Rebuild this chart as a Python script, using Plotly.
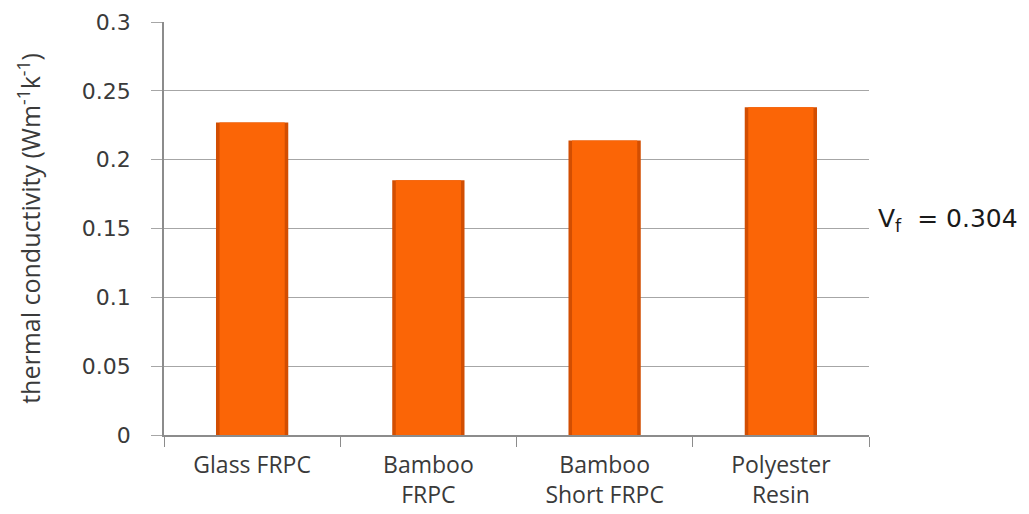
import plotly.graph_objects as go

# Thermal conductivity of each material
materials = ["Glass FRPC", "Bamboo<br>FRPC", "Bamboo<br>Short FRPC", "Polyester<br>Resin"]
conductivity = [0.227, 0.185, 0.214, 0.238]

y_ticks = [0, 0.05, 0.1, 0.15, 0.2, 0.25, 0.3]
y_tick_text = ["0", "0.05", "0.1", "0.15", "0.2", "0.25", "0.3"]

text_color = "#3a3a3a"
grid_color = "#a6a6a6"

fig = go.Figure()

# dark rim of each bar
fig.add_trace(go.Bar(
    x=materials, y=conductivity, width=0.41,
    marker=dict(color="#d24e02", line=dict(width=0)),
    hoverinfo="skip", showlegend=False,
))
# lighter face of each bar
fig.add_trace(go.Bar(
    x=materials, y=conductivity, width=0.37,
    marker=dict(color="#fb6506", line=dict(width=0)),
    showlegend=False,
))

fig.update_layout(
    width=1029, height=514,
    margin=dict(l=164, r=160, t=22, b=79),
    paper_bgcolor="white", plot_bgcolor="white",
    barmode="overlay",
    font=dict(family="Open Sans", color=text_color),
)

fig.update_xaxes(
    automargin=False,
    showline=True, linecolor="#8c8c8c", linewidth=1.5,
    ticks="outside", tickson="boundaries", ticklen=10, tickcolor="#8c8c8c",
    tickfont=dict(family="Open Sans", size=23, color=text_color),
    ticklabelstandoff=9,
    showgrid=False,
)

fig.update_yaxes(
    automargin=False,
    range=[0, 0.3],
    tickvals=y_ticks, ticktext=y_tick_text,
    showline=True, linecolor="#8c8c8c", linewidth=1.5,
    ticks="outside", ticklen=11, tickcolor=grid_color,
    tickfont=dict(family="DejaVu Sans", size=22, color=text_color),
    ticklabelstandoff=16,
    showgrid=True, gridcolor=grid_color, gridwidth=1,
    zeroline=False,
    title=dict(
        text="thermal conductivity (Wm<sup>-1</sup>k<sup>-1</sup>)",
        font=dict(family="Open Sans", size=25, color=text_color),
        standoff=34,
    ),
)

fig.add_annotation(
    xref="paper", yref="y",
    x=1.01, y=0.156,
    xanchor="left", yanchor="middle",
    text="V<sub>f</sub>  = 0.304",
    showarrow=False,
    font=dict(family="DejaVu Sans", size=25, color="#1a1a1a"),
)

fig.write_html("out.html")
